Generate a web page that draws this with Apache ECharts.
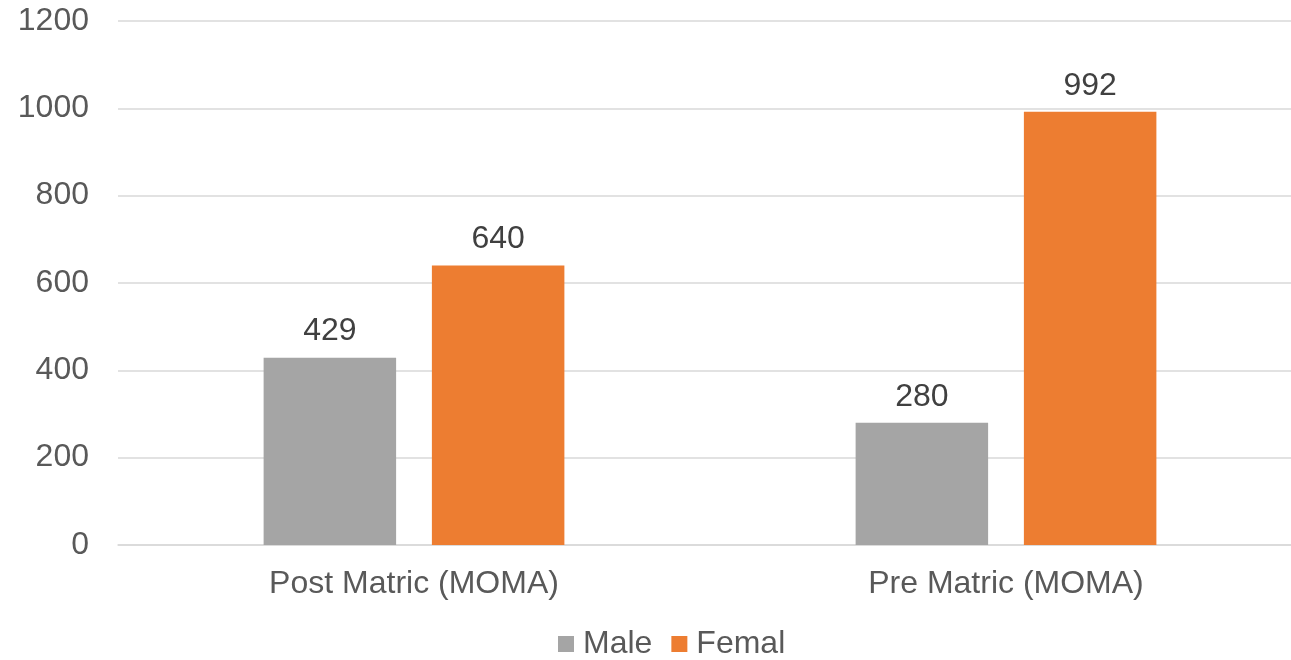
<!DOCTYPE html>
<html>
<head>
<meta charset="utf-8">
<script src="https://cdn.jsdelivr.net/npm/echarts@6/dist/echarts.min.js"></script>
<style>
html,body{margin:0;padding:0;background:#fff;overflow:hidden;width:1291px;height:660px;}
#chart{width:1302px;height:660px;}
</style>
</head>
<body>
<div id="chart"></div>
<script>
const categories = ['Post Matric (MOMA)', 'Pre Matric (MOMA)'];
const seriesNames = ['Male', 'Femal'];
const maleValues = [429, 280];
const femalValues = [640, 992];
const yTicks = [0, 200, 400, 600, 800, 1000, 1200];

const font = '"Liberation Sans", Arial, sans-serif';
const chart = echarts.init(document.getElementById('chart'));
chart.setOption({
  animation: false,
  backgroundColor: '#ffffff',
  textStyle: { fontFamily: font },
  grid: { left: 118, top: 21, right: 0, height: 524, containLabel: false },
  legend: {
    left: 558, top: 628, padding: 0,
    itemWidth: 16, itemHeight: 16, itemGap: 19,
    icon: 'rect',
    data: seriesNames,
    textStyle: { fontFamily: font, fontSize: 32, color: '#595959', padding: [0, 0, 0, 4] }
  },
  xAxis: {
    type: 'category',
    data: categories,
    axisLine: { show: true, lineStyle: { color: '#D9D9D9', width: 1.5 } },
    axisTick: { show: false },
    axisLabel: { fontFamily: font, fontSize: 32, color: '#595959', margin: 23 }
  },
  yAxis: {
    type: 'value',
    min: yTicks[0], max: yTicks[yTicks.length - 1], interval: 200,
    axisLine: { show: false },
    axisTick: { show: false },
    splitLine: { lineStyle: { color: '#D9D9D9', width: 1.5 } },
    axisLabel: { fontFamily: font, fontSize: 32, color: '#595959', margin: 29, formatter: v => String(v) }
  },
  series: [
    {
      name: seriesNames[0], type: 'bar', data: maleValues,
      barWidth: 132.5, barGap: '27%',
      itemStyle: { color: '#A5A5A5' },
      label: { show: true, position: 'top', distance: 10, fontFamily: font, fontSize: 32, color: '#404040' }
    },
    {
      name: seriesNames[1], type: 'bar', data: femalValues,
      barWidth: 132.5, barGap: '27%',
      itemStyle: { color: '#ED7D31' },
      label: { show: true, position: 'top', distance: 10, fontFamily: font, fontSize: 32, color: '#404040' }
    }
  ]
});
</script>
</body>
</html>
